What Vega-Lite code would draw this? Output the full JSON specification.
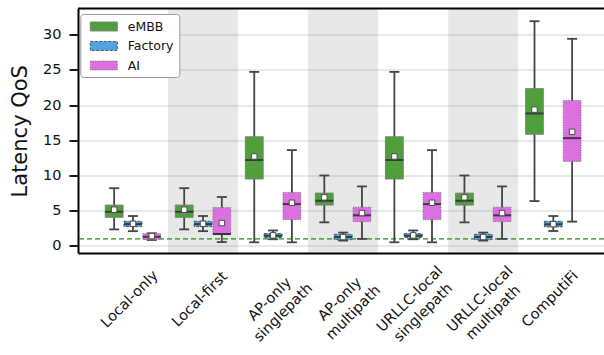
{
  "$schema": "https://vega.github.io/schema/vega-lite/v6.json",
  "width": 526,
  "height": 244.5,
  "autosize": {"type": "none"},
  "padding": {"left": 78, "top": 8.5, "right": 0, "bottom": 102},
  "background": "white",
  "config": {
    "view": {"stroke": null},
    "font": "DejaVu Sans",
    "legend": {
      "fillColor": "white",
      "strokeColor": "#9a9a9a",
      "cornerRadius": 3,
      "padding": 5,
      "symbolType": "M-2,-0.667H2V0.667H-2Z",
      "symbolSize": 182,
      "symbolStrokeWidth": 1,
      "symbolOffset": 11,
      "labelOffset": 16.5,
      "labelFontSize": 12.5,
      "labelFont": "DejaVu Sans",
      "labelColor": "#111",
      "rowPadding": 5.5
    }
  },
  "datasets": {
    "stats": [
      {"scenario": "Local-only", "series": "eMBB", "min": 2.35, "q1": 4.05, "median": 4.85, "q3": 5.8, "max": 8.2, "mean": 5.15},
      {"scenario": "Local-only", "series": "Factory", "min": 2.1, "q1": 2.75, "median": 3.1, "q3": 3.5, "max": 4.25, "mean": 3.15},
      {"scenario": "Local-only", "series": "AI", "min": 0.85, "q1": 0.9, "median": 1.3, "q3": 1.75, "max": 1.8, "mean": 1.4},
      {"scenario": "Local-first", "series": "eMBB", "min": 2.35, "q1": 4.05, "median": 4.85, "q3": 5.8, "max": 8.2, "mean": 5.15},
      {"scenario": "Local-first", "series": "Factory", "min": 2.1, "q1": 2.75, "median": 3.1, "q3": 3.5, "max": 4.25, "mean": 3.15},
      {"scenario": "Local-first", "series": "AI", "min": 0.55, "q1": 1.6, "median": 1.7, "q3": 5.45, "max": 6.95, "mean": 3.25},
      {"scenario": "AP-only singlepath", "series": "eMBB", "min": 0.52, "q1": 9.5, "median": 12.2, "q3": 15.5, "max": 24.7, "mean": 12.7},
      {"scenario": "AP-only singlepath", "series": "Factory", "min": 0.95, "q1": 1.2, "median": 1.45, "q3": 1.75, "max": 2.2, "mean": 1.5},
      {"scenario": "AP-only singlepath", "series": "AI", "min": 0.52, "q1": 3.73, "median": 5.94, "q3": 7.6, "max": 13.6, "mean": 6.13},
      {"scenario": "AP-only multipath", "series": "eMBB", "min": 3.35, "q1": 5.8, "median": 6.42, "q3": 7.5, "max": 10.0, "mean": 6.9},
      {"scenario": "AP-only multipath", "series": "Factory", "min": 0.76, "q1": 0.9, "median": 1.27, "q3": 1.65, "max": 1.9, "mean": 1.27},
      {"scenario": "AP-only multipath", "series": "AI", "min": 1.0, "q1": 3.45, "median": 4.35, "q3": 5.5, "max": 8.45, "mean": 4.67},
      {"scenario": "URLLC-local singlepath", "series": "eMBB", "min": 0.52, "q1": 9.5, "median": 12.2, "q3": 15.5, "max": 24.7, "mean": 12.7},
      {"scenario": "URLLC-local singlepath", "series": "Factory", "min": 0.95, "q1": 1.2, "median": 1.45, "q3": 1.75, "max": 2.2, "mean": 1.5},
      {"scenario": "URLLC-local singlepath", "series": "AI", "min": 0.52, "q1": 3.73, "median": 5.94, "q3": 7.6, "max": 13.6, "mean": 6.13},
      {"scenario": "URLLC-local multipath", "series": "eMBB", "min": 3.35, "q1": 5.8, "median": 6.42, "q3": 7.5, "max": 10.0, "mean": 6.9},
      {"scenario": "URLLC-local multipath", "series": "Factory", "min": 0.76, "q1": 0.9, "median": 1.27, "q3": 1.65, "max": 1.9, "mean": 1.27},
      {"scenario": "URLLC-local multipath", "series": "AI", "min": 1.0, "q1": 3.45, "median": 4.35, "q3": 5.5, "max": 8.45, "mean": 4.67},
      {"scenario": "ComputiFi", "series": "eMBB", "min": 6.37, "q1": 15.85, "median": 18.8, "q3": 22.35, "max": 31.9, "mean": 19.35},
      {"scenario": "ComputiFi", "series": "Factory", "min": 2.12, "q1": 2.7, "median": 3.07, "q3": 3.5, "max": 4.25, "mean": 3.1},
      {"scenario": "ComputiFi", "series": "AI", "min": 3.45, "q1": 12.0, "median": 15.3, "q3": 20.65, "max": 29.4, "mean": 16.2}
    ],
    "bands": [
      {"scenario": "Local-first"},
      {"scenario": "AP-only multipath"},
      {"scenario": "URLLC-local multipath"}
    ],
    "ref": [
      {"qos_target": 1, "upper": 33.7}
    ]
  },
  "layer": [
    {
      "data": {"name": "bands"},
      "mark": {"type": "rect", "color": "#000", "opacity": 0.09},
      "encoding": {
        "x": {
          "field": "scenario", "type": "nominal", "title": null,
          "scale": {"domain": ["Local-only", "Local-first", "AP-only singlepath", "AP-only multipath", "URLLC-local singlepath", "URLLC-local multipath", "ComputiFi"], "paddingInner": 0, "paddingOuter": 0.254, "align": 0.56},
          "axis": {
            "title": null, "ticks": false, "grid": false,
            "domainColor": "#000", "domainWidth": 2,
            "labelAngle": -45, "labelAlign": "center", "labelBaseline": "middle",
            "labelPadding": 46, "labelOffset": -3, "labelFontSize": 14.5, "labelFont": "DejaVu Sans",
            "labelColor": "#111", "labelLineHeight": 19,
            "labelExpr": "split(datum.value, ' ')",
            "labelOverlap": false, "labelBound": false, "labelFlush": false
          }
        }
      }
    },
    {
      "data": {"name": "ref"},
      "mark": {"type": "rule", "color": "#169216", "strokeDash": [5, 3], "strokeWidth": 1.2},
      "encoding": {
        "y": {
          "field": "qos_target", "type": "quantitative", "title": "Latency QoS",
          "scale": {"domain": [-1, 33.7], "nice": false, "zero": false},
          "axis": {
            "title": "Latency QoS",
            "values": [0, 2.5, 5, 7.5, 10, 12.5, 15, 17.5, 20, 22.5, 25, 27.5, 30, 32.5],
            "labelExpr": "datum.value % 5 === 0 ? format(datum.value, 'd') : ''",
            "tickSize": {"condition": {"test": "datum.value % 5 !== 0", "value": 5}, "value": 9},
            "tickWidth": {"condition": {"test": "datum.value % 5 !== 0", "value": 1.3}, "value": 1.8},
            "tickColor": "#000", "domainColor": "#000", "domainWidth": 2,
            "grid": true, "gridColor": "#d3d3d3", "gridWidth": 1,
            "labelFontSize": 14.5, "labelFont": "DejaVu Sans", "labelColor": "#111", "labelPadding": 8,
            "titleFontSize": 21, "titleFont": "DejaVu Sans", "titleFontWeight": "normal",
            "titleColor": "#111", "titlePadding": 12
          }
        }
      }
    },
    {
      "data": {"name": "ref"},
      "mark": {"type": "rule", "color": "#000", "strokeWidth": 2},
      "encoding": {
        "y": {"field": "upper", "type": "quantitative", "title": "Latency QoS", "scale": {"domain": [-1, 33.7], "nice": false, "zero": false}}
      }
    },
    {
      "data": {"name": "stats"},
      "layer": [
        {
          "mark": {"type": "rule", "color": "#444", "strokeWidth": 1.8},
          "encoding": {
            "y": {"field": "min", "type": "quantitative", "title": "Latency QoS", "scale": {"domain": [-1, 33.7], "nice": false, "zero": false}},
            "y2": {"field": "max"}
          }
        },
        {
          "mark": {"type": "tick", "color": "#444", "size": 10, "thickness": 1.8, "opacity": 1},
          "encoding": {
            "y": {"field": "min", "type": "quantitative", "title": "Latency QoS", "scale": {"domain": [-1, 33.7], "nice": false, "zero": false}}
          }
        },
        {
          "mark": {"type": "tick", "color": "#444", "size": 10, "thickness": 1.8, "opacity": 1},
          "encoding": {
            "y": {"field": "max", "type": "quantitative", "title": "Latency QoS", "scale": {"domain": [-1, 33.7], "nice": false, "zero": false}}
          }
        },
        {
          "mark": {"type": "bar", "strokeWidth": 1, "opacity": 1},
          "encoding": {
            "y": {"field": "q1", "type": "quantitative", "title": "Latency QoS", "scale": {"domain": [-1, 33.7], "nice": false, "zero": false}},
            "y2": {"field": "q3"},
            "color": {
              "field": "series", "type": "nominal",
              "scale": {"domain": ["eMBB", "Factory", "AI"], "range": ["#4fa03c", "#55a1da", "#db70e0"]},
              "legend": {"title": null, "orient": "none", "legendX": 2.3, "legendY": 5.5}
            },
            "stroke": {
              "field": "series", "type": "nominal",
              "scale": {"domain": ["eMBB", "Factory", "AI"], "range": ["#7d7d7d", "#3d5a73", "#707070"]},
              "legend": {"title": null, "orient": "none", "legendX": 2.3, "legendY": 5.5}
            },
            "strokeDash": {
              "field": "series", "type": "nominal",
              "scale": {"domain": ["eMBB", "Factory", "AI"], "range": [[1, 0], [3, 1.5], [1, 1.5]]},
              "legend": {"title": null, "orient": "none", "legendX": 2.3, "legendY": 5.5}
            }
          }
        },
        {
          "mark": {"type": "tick", "color": "#3a3a3a", "size": 18, "thickness": 2, "opacity": 1},
          "encoding": {
            "y": {"field": "median", "type": "quantitative", "title": "Latency QoS", "scale": {"domain": [-1, 33.7], "nice": false, "zero": false}}
          }
        },
        {
          "mark": {"type": "point", "shape": "square", "filled": true, "fill": "white", "stroke": "#4a4a4a", "strokeWidth": 1, "size": 30, "opacity": 1},
          "encoding": {
            "y": {"field": "mean", "type": "quantitative", "title": "Latency QoS", "scale": {"domain": [-1, 33.7], "nice": false, "zero": false}}
          }
        }
      ],
      "encoding": {
        "x": {
          "field": "scenario", "type": "nominal", "title": null,
          "scale": {"domain": ["Local-only", "Local-first", "AP-only singlepath", "AP-only multipath", "URLLC-local singlepath", "URLLC-local multipath", "ComputiFi"], "paddingInner": 0, "paddingOuter": 0.254, "align": 0.56}
        },
        "xOffset": {
          "field": "series", "type": "nominal",
          "scale": {"domain": ["eMBB", "Factory", "AI"], "paddingInner": 0.05, "paddingOuter": 0.387}
        }
      }
    }
  ]
}
